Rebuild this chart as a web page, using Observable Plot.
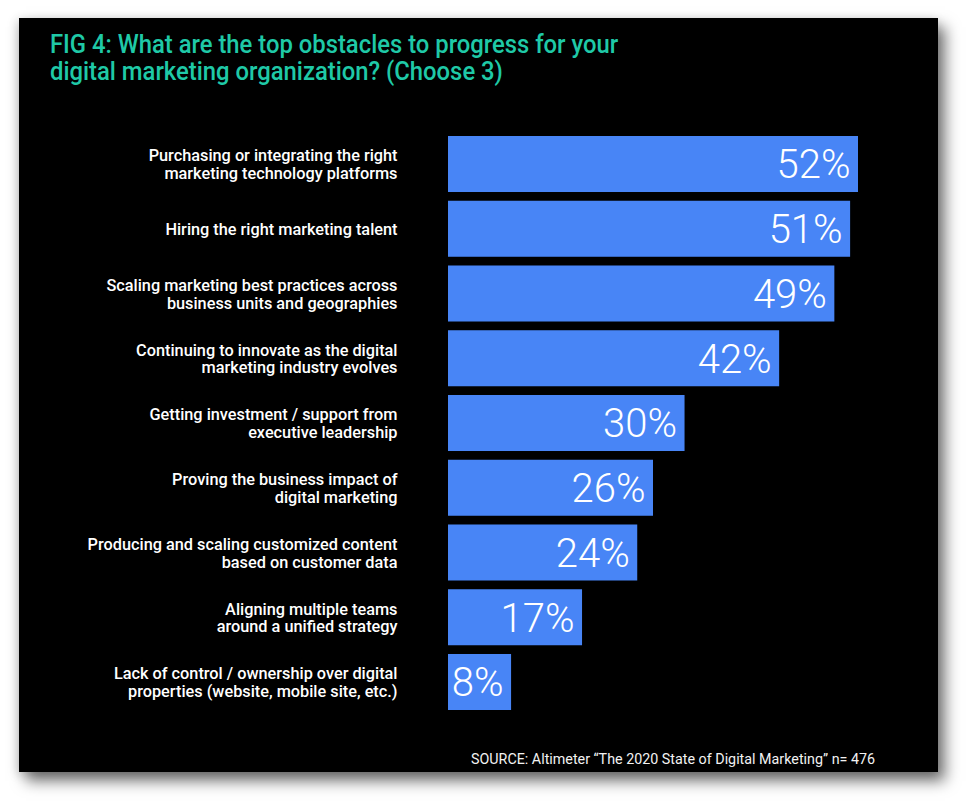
<!DOCTYPE html>
<html>
<head>
<meta charset="utf-8">
<script src="https://cdn.jsdelivr.net/npm/d3@7"></script>
<script src="https://cdn.jsdelivr.net/npm/@observablehq/plot@0.6"></script>
<style>
  html, body { margin: 0; padding: 0; background: #ffffff; }
  body { width: 978px; height: 801px; position: relative; overflow: hidden; }
  #panel {
    position: absolute; left: 19px; top: 18px; width: 919px; height: 754px;
    background: #000000;
    box-shadow: 7px 9px 14px rgba(0,0,0,0.55), -2px 2px 10px rgba(0,0,0,0.18);
  }
  #title {
    position: absolute; left: 31px; top: 13px;
    font-family: Roboto, "Open Sans", sans-serif; font-weight: 500;
    font-size: 25px; line-height: 27px; color: #1fc9a7;
    white-space: nowrap; transform-origin: 0 0; transform: scaleX(0.953);
  }
  #chart { position: absolute; left: 0; top: 102px; }
  #source {
    position: absolute; left: 452px; top: 733px;
    font-family: Roboto, sans-serif; font-size: 14.3px; line-height: 16px;
    color: #f2f2f2; white-space: nowrap;
  }
</style>
</head>
<body>
<div id="panel">
  <div id="title">FIG 4: What are the top obstacles to progress for your<br>digital marketing organization? (Choose 3)</div>
  <div id="chart"></div>
  <div id="source">SOURCE: Altimeter “The 2020 State of Digital Marketing” n= 476</div>
</div>
<script>
const categories = [
  "Purchasing or integrating the right\nmarketing technology platforms",
  "Hiring the right marketing talent",
  "Scaling marketing best practices across\nbusiness units and geographies",
  "Continuing to innovate as the digital\nmarketing industry evolves",
  "Getting investment / support from\nexecutive leadership",
  "Proving the business impact of\ndigital marketing",
  "Producing and scaling customized content\nbased on customer data",
  "Aligning multiple teams\naround a unified strategy",
  "Lack of control / ownership over digital\nproperties (website, mobile site, etc.)"
];
const values = [52, 51, 49, 42, 30, 26, 24, 17, 8];
const valueLabels = ["52%", "51%", "49%", "42%", "30%", "26%", "24%", "17%", "8%"];

const data = categories.map((c, i) => ({category: c, value: values[i], label: valueLabels[i]}));

const chart = Plot.plot({
  width: 919,
  height: 610,
  marginLeft: 429,
  marginRight: 80,
  marginTop: 16,
  marginBottom: 20,
  style: {background: "transparent", color: "#ffffff", fontFamily: "Roboto, sans-serif"},
  x: {domain: [0, 52], axis: null},
  y: {domain: categories, paddingInner: 0.135, paddingOuter: 0, round: false, label: null},
  marks: [
    Plot.barX(data, {x: "value", y: "category", fill: "#4885f6"}),
    Plot.text(data, {
      x: "value", y: "category", text: "label",
      textAnchor: "end", dx: -8, dy: 1,
      fill: "#ffffff", fontSize: 40, fontWeight: 300
    }),
    Plot.axisY({
      tickSize: 0, tickPadding: 51, fontSize: 16.3, fontWeight: 500,
      fill: "#ffffff", lineHeight: 1.1, label: null
    })
  ]
});
document.getElementById("chart").appendChild(chart);
</script>
</body>
</html>
